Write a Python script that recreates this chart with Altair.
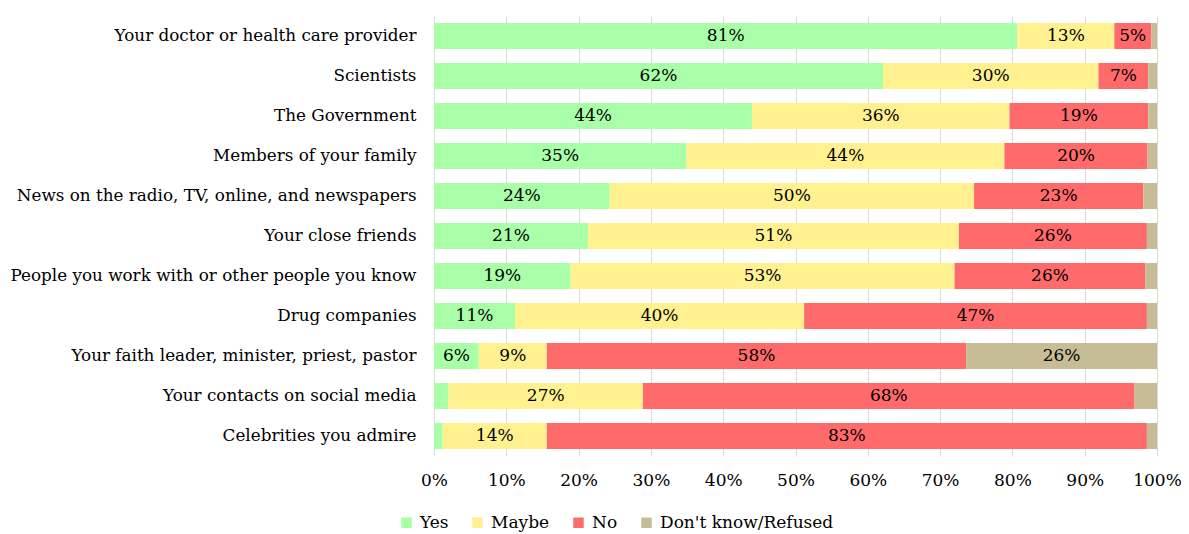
import altair as alt
import pandas as pd

categories = [
    "Your doctor or health care provider",
    "Scientists",
    "The Government",
    "Members of your family",
    "News on the radio, TV, online, and newspapers",
    "Your close friends",
    "People you work with or other people you know",
    "Drug companies",
    "Your faith leader, minister, priest, pastor",
    "Your contacts on social media",
    "Celebrities you admire",
]
responses = ["Yes", "Maybe", "No", "Don't know/Refused"]
colors = ["#A8FFA8", "#FFF190", "#FF6A6A", "#C6BD97"]

yes = [80.7, 62.1, 44.0, 34.9, 24.3, 21.3, 18.9, 11.2, 6.2, 2.0, 1.2]
maybe = [13.4, 29.8, 35.6, 44.0, 50.4, 51.3, 53.1, 40.0, 9.4, 26.9, 14.4]
no = [5.1, 6.9, 19.2, 19.8, 23.4, 26.0, 26.4, 47.4, 58.0, 68.0, 83.0]
dk = [0.8, 1.2, 1.2, 1.3, 1.9, 1.4, 1.6, 1.4, 26.4, 3.1, 1.4]

rows = []
for series, vals in zip(responses, [yes, maybe, no, dk]):
    for c, v in zip(categories, vals):
        rows.append({"category": c, "response": series,
                     "order": responses.index(series), "value": v})
df = pd.DataFrame(rows)

FONT = "DejaVu Serif"
FS = 17

base = alt.Chart(df).transform_stack(
    stack="value", as_=["x0", "x1"], groupby=["category"],
    sort=[alt.SortField("order", order="ascending")]
)

y_enc = alt.Y("category:N", sort=categories, title=None,
              scale=alt.Scale(paddingInner=0.35, paddingOuter=0.175),
              axis=alt.Axis(domain=False, ticks=False, labelPadding=18,
                            labelFontSize=16.8, labelFont=FONT, labelColor="#000",
                            labelLimit=600))

bars = base.mark_bar().encode(
    x=alt.X("x0:Q", title=None,
            scale=alt.Scale(domain=[0, 100], nice=False, zero=True),
            axis=alt.Axis(values=list(range(0, 101, 10)), labelExpr="datum.value + '%'",
                          domain=False, ticks=False, grid=True, gridColor="#D9D9D9",
                          labelFlush=False, labelBound=False,
                          labelPadding=16, labelFontSize=FS, labelFont=FONT,
                          labelColor="#000")),
    x2="x1:Q",
    y=y_enc,
    color=alt.Color("response:N", sort=responses,
                    scale=alt.Scale(domain=responses, range=colors),
                    legend=alt.Legend(title=None, orient="none", direction="horizontal",
                                      legendX=-36, legendY=498, symbolType="square",
                                      symbolSize=110, symbolStrokeWidth=0,
                                      labelFontSize=FS, labelFont=FONT, labelColor="#000",
                                      labelLimit=400,
                                      columnPadding=20, labelOffset=5)),
    order=alt.Order("order:Q"),
)

labels = base.transform_filter("datum.value >= 4.5").transform_calculate(
    mid="(datum.x0 + datum.x1) / 2",
    label="format(round(datum.value), 'd') + '%'",
).mark_text(font=FONT, fontSize=FS, color="#000", baseline="middle").encode(
    x="mid:Q",
    y=alt.Y("category:N", sort=categories),
    text="label:N",
)

chart = alt.layer(bars, labels).properties(
    width=723, height=440,
    autosize=alt.AutoSizeParams(type="none"),
    padding={"left": 426, "top": 8, "right": 24, "bottom": 78},
).configure_view(stroke=None)

chart.save("out.html", embed_options={"renderer": "svg", "actions": False})
